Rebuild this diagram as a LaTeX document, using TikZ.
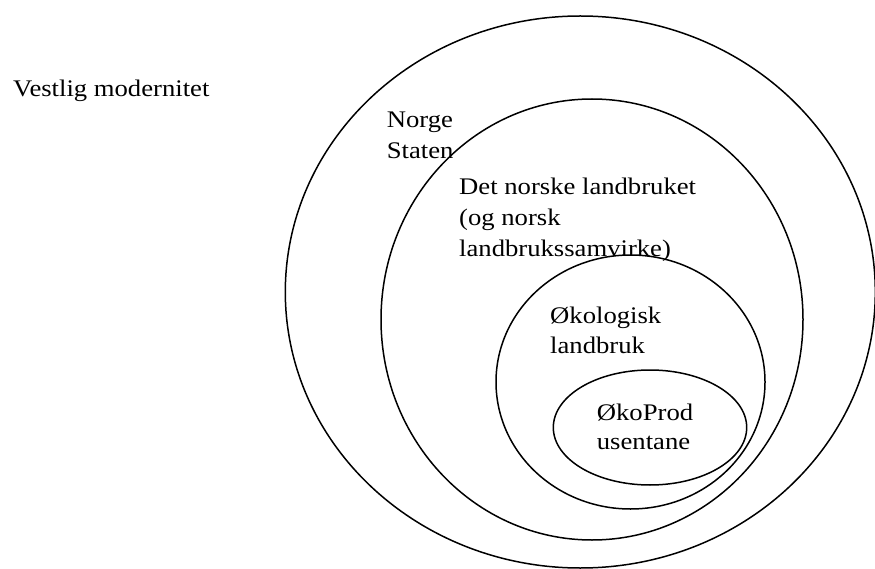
\documentclass[tikz,border=0pt]{standalone}
\usepackage{fontspec}
\setmainfont{Liberation Serif}[FakeStretch=1.12]
\begin{document}
\begin{tikzpicture}[x=1pt,y=-1pt,
  ring/.style={draw=black,line width=1.5pt},
  lbl/.style={anchor=base west,inner sep=0pt,font=\fontsize{23.8pt}{30pt}\selectfont}]
\useasboundingbox (0,0) rectangle (875,569);
\clip (0,0) rectangle (875,569);
\draw[ring] (580.3,292) ellipse [x radius=295pt, y radius=276pt];
\draw[ring] (592,319.5) ellipse [x radius=211pt, y radius=220.5pt];
\draw[ring] (630.5,382) ellipse [x radius=134.5pt, y radius=127pt];
\draw[ring] (650,427.5) ellipse [x radius=96.7pt, y radius=57.5pt];
\node[lbl] (vm) at (13,96.7) {Vestlig modernitet};
\node[lbl] (no) at (386.7,127.3) {Norge};
\node[lbl] (st) at (386.7,158.3) {Staten};
\node[lbl] (d1) at (459,195) {Det norske landbruket};
\node[lbl] (d2) at (459,226) {(og norsk};
\node[lbl] (d3) at (459,257) {landbrukssamvirke)};
\node[lbl] (o1) at (550,323.3) {Økologisk};
\node[lbl] (o2) at (550,353.5) {landbruk};
\node[lbl] (p1) at (596.7,420) {ØkoProd};
\node[lbl] (p2) at (596.7,449.5) {usentane};
\end{tikzpicture}
\end{document}
